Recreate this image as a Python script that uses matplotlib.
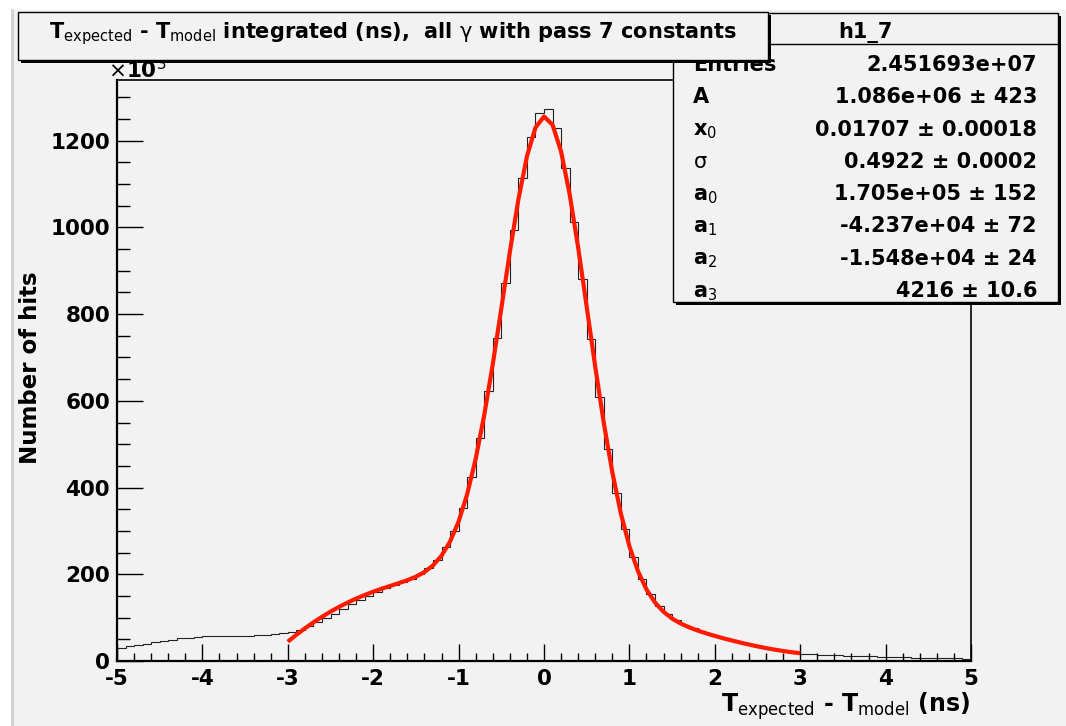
import numpy as np
import matplotlib.pyplot as plt
from matplotlib.patches import Rectangle
from matplotlib.ticker import MultipleLocator

W, H = 1066, 726
plt.rcParams['font.family'] = ['DejaVu Sans']
plt.rcParams['mathtext.fontset'] = 'dejavusans'
plt.rcParams['axes.unicode_minus'] = False

# histogram, 100 bins of 0.1 ns from -5 to 5, in units of 10^3 hits
hist_edges = np.linspace(-5, 5, 101)
hist_counts = [31, 34, 37, 40, 43, 46, 49, 52, 54, 56,
               57, 57, 57, 57, 58, 58, 59, 60, 62, 64,
               66, 72, 80, 89, 99, 109, 120, 131, 141, 151,
               160, 168, 175, 182, 190, 200, 214, 234, 262, 300,
               354, 425, 515, 622, 745, 872, 995, 1114, 1209, 1265,
               1273, 1230, 1138, 1013, 880, 742, 610, 490, 388, 305,
               240, 190, 154, 128, 109, 95, 84, 75, 68, 62,
               56, 51, 46, 41, 37, 33, 29, 26, 22, 19,
               16, 15, 14, 14, 13, 12, 12, 11, 11, 10,
               10, 9, 9, 8, 8, 7, 7, 6, 6, 5]

# fitted curve read at 0.1 ns steps from -3 to 3
fit_x = np.linspace(-3, 3, 61)
fit_y = [44.5, 60.4, 75.2, 89.1, 101.9, 113.8, 124.8, 134.8, 143.9, 152.2,
         159.8, 166.8, 173.2, 179.6, 186.3, 194.4, 205.1, 220.4, 242.8, 275.5,
         321.6, 384.5, 466.1, 567.0, 684.4, 812.8, 943.2, 1064.3, 1163.7, 1230.3,
         1255.8, 1236.8, 1174.9, 1077.0, 953.6, 816.9, 678.8, 549.3, 435.3, 340.1,
         264.7, 207.3, 165.1, 134.9, 113.4, 97.9, 86.5, 77.6, 70.2, 63.7,
         57.9, 52.4, 47.3, 42.5, 37.9, 33.7, 29.8, 26.2, 23.1, 20.3, 17.9]

stat_names = ["Entries", "A", r"x$_{\mathrm{0}}$", r"$\mathrm{\sigma}$",
              r"a$_{\mathrm{0}}$", r"a$_{\mathrm{1}}$", r"a$_{\mathrm{2}}$", r"a$_{\mathrm{3}}$"]
stat_values = ["2.451693e+07", "1.086e+06 ± 423", "0.01707 ± 0.00018", "0.4922 ± 0.0002",
               "1.705e+05 ± 152", "-4.237e+04 ± 72", "-1.548e+04 ± 24", "4216 ± 10.6"]

title = r"T$_{\mathrm{expected}}$ - T$_{\mathrm{model}}$ integrated (ns),  all $\mathrm{\gamma}$ with pass 7 constants"
xlabel = r"T$_{\mathrm{expected}}$ - T$_{\mathrm{model}}$ (ns)"
ylabel = "Number of hits"
bg = '#f2f2f2'


def fx(x):
    return x / W


def fy(y):
    return 1 - y / H


def box(fig, x0, y0, x1, y1, z, shadow=3):
    fig.add_artist(Rectangle((fx(x0 + shadow), fy(y1 + shadow)), (x1 - x0) / W, (y1 - y0) / H,
                             transform=fig.transFigure, fc='black', ec='none', zorder=z))
    fig.add_artist(Rectangle((fx(x0), fy(y1)), (x1 - x0) / W, (y1 - y0) / H,
                             transform=fig.transFigure, fc=bg, ec='black', lw=1, zorder=z + 0.1))


fig = plt.figure(figsize=(W / 100, H / 100), dpi=100, facecolor='white')
fig.add_artist(Rectangle((fx(12), 0), 1 - fx(12), fy(10), transform=fig.transFigure,
                         fc=bg, ec='none', zorder=-5))
fig.add_artist(plt.Line2D([fx(12), fx(12)], [0, fy(10)], transform=fig.transFigure,
                          color='#d0d0d0', lw=2, zorder=-4))

ax = fig.add_axes([fx(117), fy(661), (971 - 117) / W, (661 - 80) / H])
ax.set_facecolor(bg)
ax.stairs(hist_counts, hist_edges, color='#222222', lw=0.8)
ax.plot(fit_x, fit_y, color='#ff1a00', lw=3.0, solid_capstyle='butt')
ax.set_xlim(-5, 5)
ax.set_ylim(0, 1340)
ax.xaxis.set_major_locator(MultipleLocator(1))
ax.xaxis.set_minor_locator(MultipleLocator(0.2))
ax.yaxis.set_major_locator(MultipleLocator(200))
ax.yaxis.set_minor_locator(MultipleLocator(50))
ax.tick_params(axis='x', which='major', direction='in', length=12.2, width=1, pad=6, labelsize=15.5)
ax.tick_params(axis='x', which='minor', direction='in', length=6, width=1)
ax.tick_params(axis='y', which='major', direction='in', length=18.7, width=1, pad=5, labelsize=15.5)
ax.tick_params(axis='y', which='minor', direction='in', length=9.4, width=1)
for lab in ax.get_xticklabels() + ax.get_yticklabels():
    lab.set_fontweight('bold')
for side in ['left', 'bottom']:
    ax.spines[side].set_linewidth(1.6)
for side in ['top', 'right']:
    ax.spines[side].set_linewidth(1.2)

fig.text(fx(31), fy(368), ylabel, rotation=90, ha='center', va='center',
         fontsize=16.5, fontweight='bold')
fig.text(fx(970), fy(712), xlabel, ha='right', va='baseline', fontsize=17, fontweight='bold')
fig.text(fx(108), fy(78), r"$\times$10$^{3}$", ha='left', va='baseline', fontsize=15.5,
         fontweight='bold', zorder=5)

# stats box
box(fig, 673, 13, 1058, 302, 10)
fig.add_artist(plt.Line2D([fx(673), fx(1058)], [fy(44), fy(44)], transform=fig.transFigure,
                          color='black', lw=1, zorder=10.5))
fig.text(fx(865), fy(38), "h1_7", ha='center', va='baseline', fontsize=15, fontweight='bold', zorder=11)
base0, step = 71, 32.3
for i, (name, val) in enumerate(zip(stat_names, stat_values)):
    yb = base0 + i * step
    fig.text(fx(693), fy(yb), name, ha='left', va='baseline', fontsize=15, fontweight='bold', zorder=11)
    fig.text(fx(1037), fy(yb), val, ha='right', va='baseline', fontsize=15, fontweight='bold', zorder=11)

# title box
box(fig, 18, 12, 768, 60, 12)
fig.text(fx(393), fy(38), title, ha='center', va='baseline', fontsize=15, fontweight='bold', zorder=13)

fig.savefig('out.png', dpi=100, facecolor=fig.get_facecolor())
